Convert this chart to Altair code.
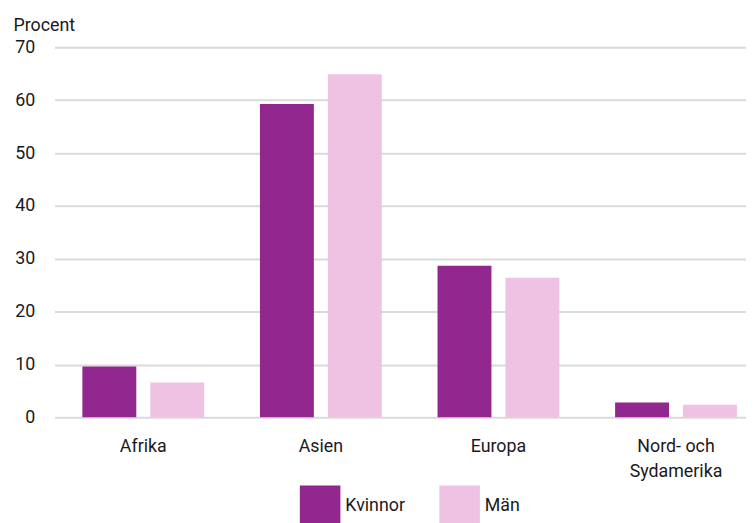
import altair as alt
import pandas as pd

regions = ["Afrika", "Asien", "Europa", "Nord- och Sydamerika"]
groups = ["Kvinnor", "Män"]
kvinnor = [9.6, 59.3, 28.7, 2.8]
man = [6.6, 64.9, 26.4, 2.4]
y_ticks = [0, 10, 20, 30, 40, 50, 60, 70]
colors = ["#92278f", "#efc2e4"]

rows = []
for r, k, m in zip(regions, kvinnor, man):
    rows.append({"region": r, "kon": groups[0], "procent": k})
    rows.append({"region": r, "kon": groups[1], "procent": m})
df = pd.DataFrame(rows)

FONT = "Roboto"
TXT = "#1a1a1a"

chart = alt.Chart(df).mark_bar().encode(
    x=alt.X("region:N", sort=regions,
            scale=alt.Scale(paddingInner=0.314, paddingOuter=0.157, range=[0, 718]),
            axis=alt.Axis(title=None, labelAngle=0, domain=False, ticks=False,
                          labelPadding=21, labelFontSize=18, labelLineHeight=25,
                          labelFont=FONT, labelColor=TXT,
                          labelExpr="datum.value == 'Nord- och Sydamerika' ? ['Nord- och', 'Sydamerika'] : datum.label")),
    xOffset=alt.XOffset("kon:N", sort=groups,
                        scale=alt.Scale(paddingInner=0.206, paddingOuter=0)),
    y=alt.Y("procent:Q", scale=alt.Scale(domain=[0, 70], nice=False),
            axis=alt.Axis(values=y_ticks, title="Procent", titleAngle=0, titleAlign="left",
                          titleBaseline="alphabetic", titleX=-42, titleY=-17,
                          titleFontSize=18, titleFontWeight="normal", titleFont=FONT, titleColor=TXT,
                          domain=False, ticks=False, labelPadding=20, labelFontSize=18,
                          labelFont=FONT, labelColor=TXT,
                          gridColor="#dadada", gridWidth=2)),
    color=alt.Color("kon:N", sort=groups,
                    scale=alt.Scale(domain=groups, range=colors),
                    legend=alt.Legend(title=None, orient="none", direction="horizontal",
                                      legendX=248, legendY=443, symbolType="square",
                                      symbolSize=1681, symbolStrokeWidth=0, symbolOpacity=1,
                                      labelFontSize=18, labelFont=FONT, labelColor=TXT,
                                      labelOffset=5, columnPadding=34, padding=0)),
).properties(
    width=699, height=374,
    autosize=alt.AutoSizeParams(type="none"),
    padding={"left": 47, "top": 37, "right": 0, "bottom": 104},
).configure_view(stroke=None)

chart.save("out.html", embed_options={"renderer": "svg", "actions": False})
